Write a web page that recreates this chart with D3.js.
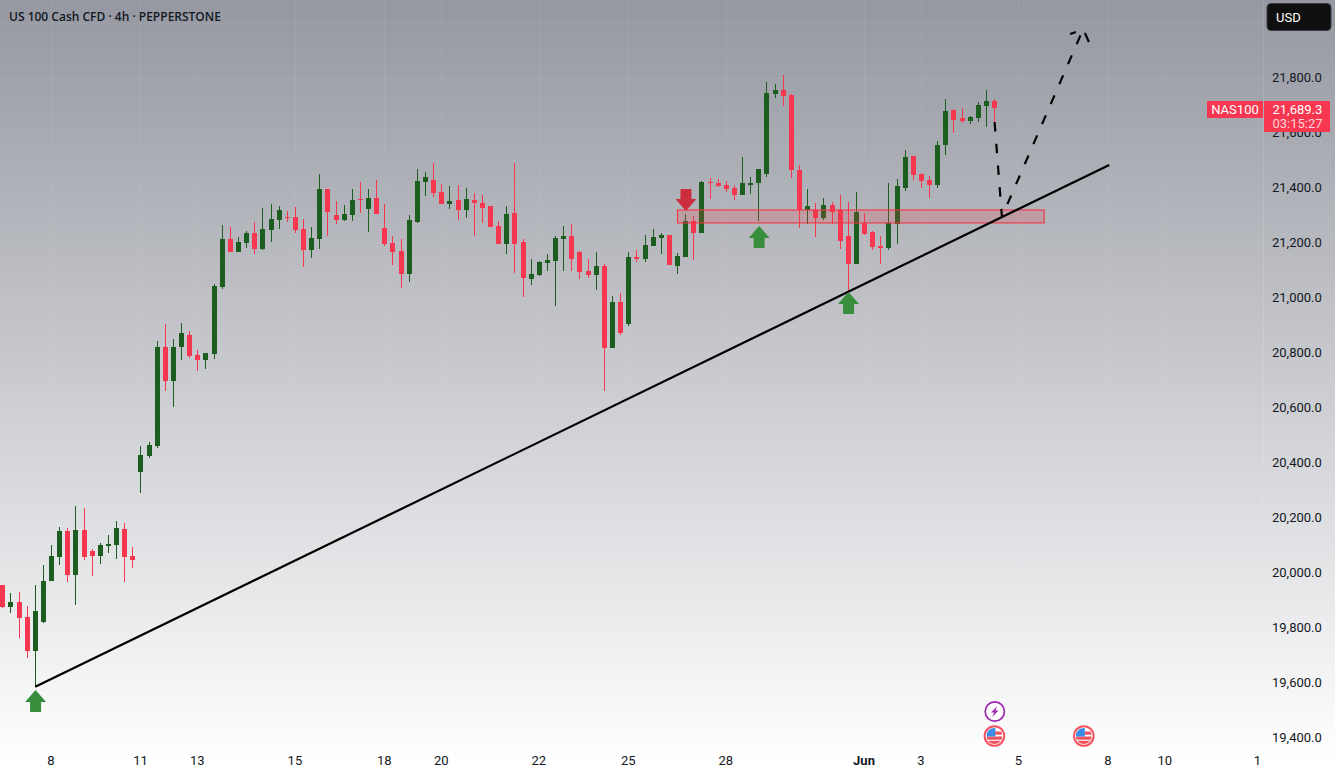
<!DOCTYPE html>
<html>
<head>
<meta charset="utf-8">
<style>
  html, body { margin: 0; padding: 0; background: #fff; overflow: hidden; }
  svg { display: block; }
  text { font-family: Roboto, "Liberation Sans", sans-serif; }
</style>
<script src="https://cdnjs.cloudflare.com/ajax/libs/d3/7.8.5/d3.min.js"></script>
</head>
<body>
<svg id="chart" width="1335" height="777"></svg>
<script>
// 4h candles, oldest first
const opens = [19956,19876,19895,19840,19716,19822,19971,20058,20153,19993,20156,20080,20062,20098,20102,20160,20062,
  20367,20425,20462,20822,20698,20822,20865,20793,20775,20796,21040,21215,21167,21200,21236,21178,21247,21284,21295,21295,
  21251,21175,21215,21396,21302,21284,21302,21360,21324,21364,21255,21200,21171,21087,21276,21422,21429,21385,21342,21356,
  21320,21356,21345,21335,21262,21196,21309,21204,21069,21084,21127,21135,21215,21225,21167,21098,21084,21116,20818,20985,
  20905,21149,21142,21189,21218,21229,21116,21149,21280,21236,21422,21418,21411,21400,21375,21411,21418,21451,21742,21756,
  21738,21465,21320,21320,21291,21338,21320,21225,21124,21273,21240,21189,21182,21269,21400,21516,21451,21429,21411,21556,
  21684,21655,21644,21655,21698,21716];
const highs = [19956,19927,19931,19880,19956,20029,20102,20167,20164,20244,20236,20087,20109,20138,20189,20182,20095,
  20462,20476,20844,20905,20851,20909,20880,20811,20800,21051,21265,21258,21222,21244,21276,21327,21342,21335,21316,21331,
  21287,21258,21451,21396,21353,21338,21396,21422,21396,21429,21342,21225,21215,21302,21469,21458,21491,21415,21407,21411,
  21400,21382,21375,21335,21280,21335,21491,21215,21142,21135,21160,21225,21262,21269,21171,21142,21167,21124,21007,21018,
  21167,21175,21229,21251,21236,21229,21164,21305,21298,21425,21436,21433,21425,21411,21513,21440,21469,21785,21778,21811,
  21742,21484,21396,21345,21364,21349,21375,21349,21385,21309,21244,21225,21418,21433,21538,21516,21455,21444,21571,21724,
  21687,21691,21662,21713,21756,21724];
const lows = [19873,19855,19764,19691,19586,19818,19971,20029,19967,19884,20047,19989,20033,20073,20051,19967,20018,
  20291,20418,20455,20662,20604,20775,20782,20735,20742,20778,21033,21167,21167,21182,21160,21175,21204,21251,21276,21236,
  21113,21145,21178,21225,21269,21280,21280,21309,21240,21305,21189,21120,21036,21058,21273,21371,21367,21342,21324,21284,
  21291,21225,21273,21258,21196,21160,21091,21004,21047,21080,21098,20971,21098,21098,21069,21073,21029,20662,20818,20865,
  20898,21131,21131,21189,21160,21120,21087,21149,21138,21236,21360,21404,21385,21356,21375,21378,21280,21440,21727,21698,
  21436,21255,21269,21222,21284,21269,21178,21022,21124,21229,21175,21124,21175,21196,21389,21429,21400,21364,21400,21520,
  21600,21636,21633,21640,21622,21636];
const closes = [19876,19895,19836,19716,19862,19971,20062,20153,19993,20156,20058,20062,20102,20105,20164,20058,20047,
  20429,20465,20822,20698,20822,20873,20789,20775,20800,21044,21215,21167,21204,21236,21178,21251,21287,21320,21291,21247,
  21175,21218,21396,21313,21284,21305,21356,21356,21364,21305,21196,21167,21087,21284,21425,21440,21382,21342,21353,21320,
  21360,21345,21327,21258,21196,21305,21196,21073,21087,21131,21138,21218,21225,21142,21095,21084,21116,20818,20985,20873,
  21149,21142,21193,21222,21229,21120,21153,21280,21236,21422,21418,21407,21396,21375,21418,21418,21469,21745,21756,21735,
  21465,21320,21335,21291,21338,21313,21207,21124,21313,21233,21185,21182,21273,21407,21513,21447,21425,21411,21556,21680,
  21647,21644,21658,21702,21716,21689.3];

// price axis
const priceTicks = [22000,21800,21600,21400,21200,21000,20800,20600,20400,20200,20000,19800,19600,19400];

// time axis: candle slot of each label
const timeSlots  = [6,17,24,36,47,54,66,77,89,106,113,125,136,143,154.4];
const timeLabels = ["8","11","13","15","18","20","22","25","28","Jun","3","5","8","10","1"];

// hand-drawn annotations, in candle slots and prices
const trendSlots  = [4,136.1];
const trendPrices = [19586,21484];
const zoneSlots   = [83,128.1];
const zonePrices  = [21320,21273];
const projectionSlots  = [122,122.9,132.9];
const projectionPrices = [21640,21295,21978];
const wingLeftSlots    = [131.3,132.0];
const wingLeftPrices   = [21960,21967];
const wingRightSlots   = [133.1,133.6];
const wingRightPrices  = [21964,21931];
const upArrowSlots  = [4,93,104];
const upArrowPrices = [19575,21262,21022];
const downArrowSlots  = [84];
const downArrowPrices = [21316];
const flagEventSlots  = [122,133];
const powerEventSlots = [122];

const lastPrice = "21,689.3";
const countdown = "03:15:27";
const symbol = "NAS100";
const title = "US 100 Cash CFD · 4h · PEPPERSTONE";

const GREEN = "#1b5e20", RED = "#f7374f", ARROW_GREEN = "#388e3c", ARROW_RED = "#cc2e3e";
const WIDTH = 1335, HEIGHT = 777, PANE_RIGHT = 1263;

const x = d3.scaleLinear().domain([0,122]).range([2.75,994.6]);
const y = d3.scaleLinear().domain([19400,21800]).range([738,78]);

const svg = d3.select("#chart");
const defs = svg.append("defs");

const bg = defs.append("linearGradient").attr("id","backdrop")
  .attr("x1",0).attr("y1",0).attr("x2",0).attr("y2",1);
bg.append("stop").attr("offset",0).attr("stop-color","#9598a1");
bg.append("stop").attr("offset",0.98).attr("stop-color","#ffffff");
svg.append("rect").attr("width",WIDTH).attr("height",HEIGHT).attr("fill","url(#backdrop)");

// grid
const grid = svg.append("g").attr("stroke","#ffffff").attr("stroke-opacity",0.06).attr("shape-rendering","crispEdges");
grid.selectAll(".h").data(priceTicks).join("line")
  .attr("x1",0).attr("x2",PANE_RIGHT)
  .attr("y1",d=>Math.round(y(d))+0.5).attr("y2",d=>Math.round(y(d))+0.5);
grid.selectAll(".v").data(timeSlots.slice(0,-1)).join("line")
  .attr("y1",0).attr("y2",750)
  .attr("x1",d=>Math.floor(x(d))+0.5).attr("x2",d=>Math.floor(x(d))+0.5);
svg.append("line").attr("x1",PANE_RIGHT+0.5).attr("x2",PANE_RIGHT+0.5).attr("y1",0).attr("y2",HEIGHT)
  .attr("stroke","#ffffff").attr("stroke-opacity",0.12);

// candles
const candles = d3.range(opens.length).map(i => ({i, o:opens[i], h:highs[i], l:lows[i], c:closes[i]}));
const candleG = svg.append("g").attr("shape-rendering","crispEdges");
const mark = candleG.selectAll("g").data(candles).join("g")
  .attr("fill",d=>d.c>=d.o?GREEN:RED);
mark.append("rect")
  .attr("x",d=>Math.floor(x(d.i)))
  .attr("width",1)
  .attr("y",d=>Math.round(y(d.h)))
  .attr("height",d=>Math.max(1,Math.round(y(d.l))-Math.round(y(d.h))));
mark.append("rect")
  .attr("x",d=>Math.floor(x(d.i))-2)
  .attr("width",5)
  .attr("y",d=>Math.round(y(Math.max(d.o,d.c))))
  .attr("height",d=>Math.max(1,Math.round(y(Math.min(d.o,d.c)))-Math.round(y(Math.max(d.o,d.c)))));

// support zone
svg.append("rect")
  .attr("x",x(zoneSlots[0])).attr("width",x(zoneSlots[1])-x(zoneSlots[0]))
  .attr("y",y(zonePrices[0])).attr("height",y(zonePrices[1])-y(zonePrices[0]))
  .attr("fill","#f23645").attr("fill-opacity",0.2)
  .attr("stroke","#f23645").attr("stroke-width",1.1);

// rising trend line
const pathLine = d3.line().x(d=>x(d[0])).y(d=>y(d[1]));
svg.append("path").attr("d",pathLine(d3.zip(trendSlots,trendPrices)))
  .attr("fill","none").attr("stroke","#000").attr("stroke-width",2.2);

// projected move with its arrowhead
svg.append("path").attr("d",pathLine(d3.zip(projectionSlots,projectionPrices)))
  .attr("fill","none").attr("stroke","#000").attr("stroke-width",2.2).attr("stroke-dasharray","9.5 12.3");
[[wingLeftSlots,wingLeftPrices],[wingRightSlots,wingRightPrices]].forEach(([s,p])=>{
  svg.append("path").attr("d",pathLine(d3.zip(s,p)))
    .attr("fill","none").attr("stroke","#000").attr("stroke-width",2.2);
});

// up and down block arrows; the price is where the tip sits
const arrowShape = "M0,0 L10.5,12 L5.5,12 L5.5,22 L-5.5,22 L-5.5,12 L-10.5,12 Z";
svg.append("g").selectAll("path").data(d3.zip(upArrowSlots,upArrowPrices)).join("path")
  .attr("d",arrowShape).attr("fill",ARROW_GREEN)
  .attr("transform",d=>`translate(${x(d[0])+0.3},${y(d[1])})`);
svg.append("g").selectAll("path").data(d3.zip(downArrowSlots,downArrowPrices)).join("path")
  .attr("d",arrowShape).attr("fill",ARROW_RED)
  .attr("transform",d=>`translate(${x(d[0])+0.3},${y(d[1])}) scale(1,-1)`);

// economic calendar badges
const flagClip = defs.append("clipPath").attr("id","flagClip");
flagClip.append("circle").attr("r",8);
const flags = svg.append("g").selectAll("g").data(flagEventSlots).join("g")
  .attr("transform",d=>`translate(${x(d)-0.2},736)`);
flags.append("circle").attr("r",9.8).attr("fill","#ffffff").attr("stroke","#f7525f").attr("stroke-width",2);
const inner = flags.append("g").attr("clip-path","url(#flagClip)");
inner.append("rect").attr("x",-8).attr("y",-8).attr("width",16).attr("height",16).attr("fill","#ffffff");
[-4.5,0.5,4.8].forEach(t=>{
  inner.append("rect").attr("x",-8).attr("y",t).attr("width",16).attr("height",3.2).attr("fill","#f0525e");
});
inner.append("rect").attr("x",-8).attr("y",-8).attr("width",9).attr("height",8.5).attr("fill","#3d8ee6");

const power = svg.append("g").selectAll("g").data(powerEventSlots).join("g")
  .attr("transform",d=>`translate(${x(d)+0.2},711.5)`);
power.append("circle").attr("r",9.6).attr("fill","#ffffff").attr("stroke","#9c27b0").attr("stroke-width",1.7);
power.append("path").attr("d","M2.6,-5.5 L-3.8,1 L-0.6,1 L-2.6,5.5 L3.8,-1 L0.6,-1 Z").attr("fill","#9c27b0");

// price axis
const yAxis = d3.axisRight(y).tickValues(priceTicks.filter(t=>t<22000))
  .tickSize(0).tickPadding(0).tickFormat(d=>d3.format(",.1f")(d));
svg.append("g").attr("transform","translate(1272,-1)").call(yAxis)
  .call(g=>g.select(".domain").remove())
  .call(g=>g.selectAll("text").attr("font-size",13).attr("fill","#131722").attr("font-family","Roboto"));

// time axis
const labelOf = new Map(timeSlots.map((s,i)=>[s,timeLabels[i]]));
const xAxis = d3.axisBottom(x).tickValues(timeSlots).tickSize(0).tickPadding(0).tickFormat(d=>labelOf.get(d));
svg.append("g").attr("transform","translate(-1,756)").call(xAxis)
  .call(g=>g.select(".domain").remove())
  .call(g=>g.selectAll("text").attr("font-size",13).attr("fill","#131722").attr("font-family","Roboto")
    .attr("font-weight",d=>labelOf.get(d)==="Jun"?700:400));

// title
svg.append("text").attr("x",9).attr("y",21).text(title)
  .attr("font-size",12).attr("font-weight",600).attr("fill","#131722").style("font-family","'Open Sans'");

// currency button
svg.append("rect").attr("x",1267).attr("y",3.5).attr("width",64).attr("height",27).attr("rx",4)
  .attr("fill","#0f0f0f").attr("stroke","#3a3d45").attr("stroke-width",1);
svg.append("text").attr("x",1276).attr("y",21.5).text("USD").attr("font-size",13).attr("fill","#ffffff");

// last price tags
svg.append("rect").attr("x",1207).attr("y",101).attr("width",56).attr("height",17).attr("fill",RED);
svg.append("text").attr("x",1235).attr("y",114).attr("text-anchor","middle").text(symbol)
  .attr("font-size",13).attr("fill","#ffffff");
svg.append("rect").attr("x",1264).attr("y",101).attr("width",66).attr("height",31).attr("fill",RED);
svg.append("text").attr("x",1272.5).attr("y",113.5).text(lastPrice).attr("font-size",13).attr("fill","#ffffff");
svg.append("text").attr("x",1272.5).attr("y",127.5).text(countdown).attr("font-size",13).attr("fill","#ffd3d8");
</script>
</body>
</html>
